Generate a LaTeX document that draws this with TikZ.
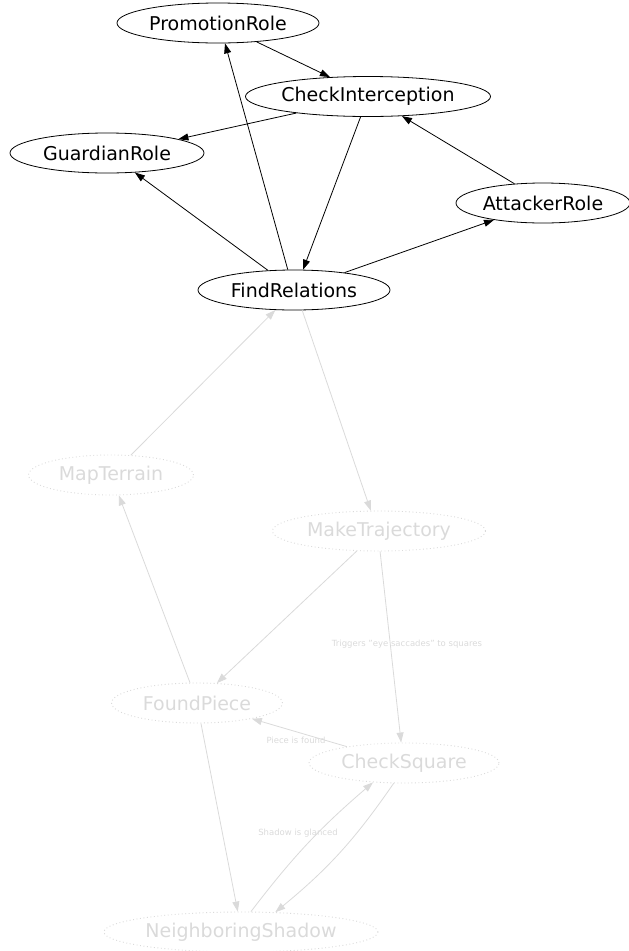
\documentclass[tikz,border=0pt]{standalone}
\usepackage{fontspec}
\setmainfont{DejaVu Sans}
\usetikzlibrary{arrows.meta,shapes.geometric}
\definecolor{faint}{RGB}{218,218,218}
\begin{document}
\begin{tikzpicture}[x=1pt,y=-1pt,
  base/.style={ellipse, inner sep=0pt, minimum height=40pt, font=\fontsize{19}{21}\selectfont},
  solidnode/.style={base, draw=black, line width=0.8pt, text=black},
  ghost/.style={base, draw=faint, dash pattern=on 0.9pt off 2.6pt, line width=0.9pt, text=faint},
  edge/.style={-{Triangle[length=10pt,width=7pt]}, line width=0.8pt, draw=black},
  gedge/.style={-{Triangle[length=10pt,width=7pt]}, line width=0.8pt, draw=faint},
  lbl/.style={text=faint, font=\fontsize{8.5}{10}\selectfont, inner sep=0pt}]
\useasboundingbox (0,0) rectangle (629,951);
% solid nodes
\node[solidnode, minimum width=202pt] (PR) at (218,23) {PromotionRole};
\node[solidnode, minimum width=245pt] (CI) at (368,96.5) {CheckInterception};
\node[solidnode, minimum width=194pt] (GR) at (107,153) {GuardianRole};
\node[solidnode, minimum width=174pt] (AR) at (543,203) {AttackerRole};
\node[solidnode, minimum width=192pt] (FR) at (294,290) {FindRelations};
% faint nodes
\node[ghost, minimum width=165pt] (MT) at (111,475) {MapTerrain};
\node[ghost, minimum width=213pt] (MK) at (379,531) {MakeTrajectory};
\node[ghost, minimum width=171pt] (FP) at (197,703) {FoundPiece};
\node[ghost, minimum width=190pt] (CS) at (404,763) {CheckSquare};
\node[ghost, minimum width=274pt] (NS) at (241,932) {NeighboringShadow};
% solid edges
\draw[edge] (PR.-26) -- (CI.153);
\draw[edge] (CI.-167) -- (GR.11);
\draw[edge] (CI.-110) -- (FR.66);
\draw[edge] (AR.146) -- (CI.-30);
\draw[edge] (FR.107) -- (PR.-71);
\draw[edge] (FR.143.5) -- (GR.-35.5);
\draw[edge] (FR.19.4) -- (AR.-161);
% faint edges
\draw[gedge] (MT.45) -- (FR.-133.5);
\draw[gedge] (FR.-68) -- (MK.112);
\draw[gedge] (FP.109) -- (MT.-69);
\draw[gedge] (MK.-138) -- (FP.45);
\draw[gedge] (MK.-87) -- (CS.98.5);
\draw[gedge] (CS.164) -- (FP.-16);
\draw[gedge] (FP.-79) -- (NS.99);
\draw[gedge] (NS.64.6) to[bend left=6] (CS.-148.5);
\draw[gedge] (CS.-117) to[bend left=8] (NS.30.7);
% edge labels
\node[lbl] (L1) at (407,644) {Triggers "eye saccades" to squares};
\node[lbl] (L2) at (296,740) {Piece is found};
\node[lbl] (L3) at (298,833) {Shadow is glanced};
\end{tikzpicture}
\end{document}
